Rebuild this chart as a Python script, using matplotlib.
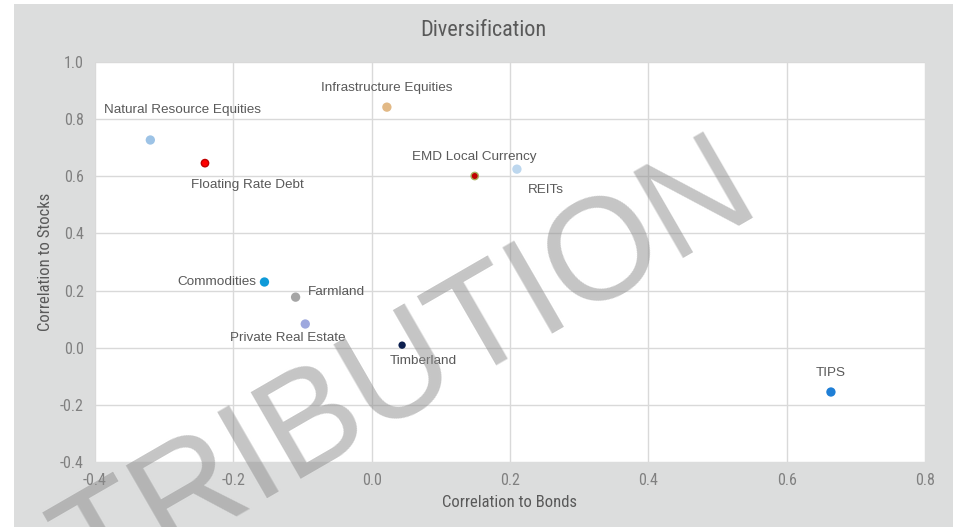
import matplotlib.pyplot as plt
from matplotlib.patches import Rectangle

# data
names = ['Natural Resource Equities', 'Floating Rate Debt', 'Infrastructure Equities',
         'EMD Local Currency', 'REITs', 'Commodities', 'Farmland',
         'Private Real Estate', 'Timberland', 'TIPS']
corr_bonds = [-0.320, -0.241, 0.022, 0.149, 0.210, -0.155, -0.110, -0.096, 0.044, 0.664]
corr_stocks = [0.727, 0.646, 0.842, 0.601, 0.625, 0.230, 0.177, 0.083, 0.009, -0.155]

x_ticks = [-0.4, -0.2, 0.0, 0.2, 0.4, 0.6, 0.8]
y_ticks = [-0.4, -0.2, 0.0, 0.2, 0.4, 0.6, 0.8, 1.0]

# styling per point: colour, edge, size, label offset (px), alignment
colors = ['#9dc3e6', '#ff0000', '#e2b986', '#c00000', '#bdd7ee',
          '#0f9ad8', '#a5a5a5', '#9ea8de', '#0c1f4f', '#1f7fd6']
edges = ['none', '#c00000', 'none', '#a8b060', 'none',
         'none', 'none', 'none', 'none', 'none']
sizes = [45, 28, 45, 28, 45, 45, 45, 45, 28, 45]
offsets = [(32, 30), (42, -22), (0, 19), (0, 19), (29, -21),
           (-8, 0), (12, 5), (-18, -14), (21, -16), (0, 19)]
aligns = ['center', 'center', 'center', 'center', 'center',
          'right', 'left', 'center', 'center', 'center']

cond = ['Roboto Condensed', 'DejaVu Sans']
plt.rcParams['font.family'] = ['Liberation Sans', 'DejaVu Sans']

fig = plt.figure(figsize=(9.57, 5.27), dpi=100)
fig.patch.set_facecolor('white')
fig.patches.append(Rectangle((14 / 957, 0), 939 / 957, 523 / 527,
                             transform=fig.transFigure, facecolor='#dcdddd',
                             edgecolor='none', zorder=-5))

ax = fig.add_axes([95 / 957, 65 / 527, 830 / 957, 400 / 527])
ax.set_facecolor('white')
ax.set_xlim(-0.4, 0.8)
ax.set_ylim(-0.4, 1.0)
ax.set_xticks(x_ticks)
ax.set_yticks(y_ticks)
ax.set_xticklabels([f'{t:.1f}' for t in x_ticks], family=cond)
ax.set_yticklabels([f'{t:.1f}' for t in y_ticks], family=cond)
ax.tick_params(length=0, labelsize=11.5, labelcolor='#808080', pad=8)
ax.grid(True, color='#d9d9d9', linewidth=1)
ax.set_axisbelow(True)
for s in ax.spines.values():
    s.set_visible(False)

ax.scatter(corr_bonds, corr_stocks, s=sizes, c=colors, edgecolors=edges,
           linewidths=1, zorder=3)

for i, name in enumerate(names):
    ax.annotate(name, (corr_bonds[i], corr_stocks[i]), xytext=offsets[i],
                textcoords='offset pixels', ha=aligns[i], va='center',
                fontsize=9.7, color='#595959', zorder=4)

ax.set_xlabel('Correlation to Bonds', fontsize=12, color='#595959',
              labelpad=5, family=cond)
ax.set_ylabel('Correlation to Stocks', fontsize=12, color='#595959',
              labelpad=5, family=cond)
fig.text(483 / 957, 497 / 527, 'Diversification', ha='center', va='center',
         fontsize=16, color='#595959', family=cond)

# watermark
fig.text(408 / 957, 155 / 527, 'TRIBUTION', ha='center', va='center',
         rotation=30, fontsize=104, color='#8c8c8c', alpha=0.5,
         family='Liberation Sans', zorder=10)

fig.savefig('out.png', dpi=100, facecolor=fig.get_facecolor())
